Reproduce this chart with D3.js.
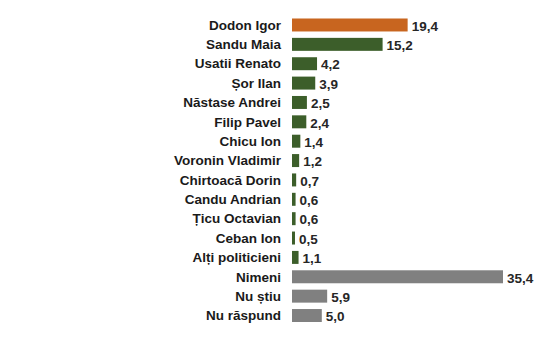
<!DOCTYPE html>
<html>
<head>
<meta charset="utf-8">
<script src="https://cdn.jsdelivr.net/npm/d3@7"></script>
<style>
  html, body { margin: 0; padding: 0; background: #ffffff; }
  svg { display: block; }
</style>
</head>
<body>
<script>
const categories = ["Dodon Igor", "Sandu Maia", "Usatii Renato", "Șor Ilan", "Năstase Andrei", "Filip Pavel", "Chicu Ion", "Voronin Vladimir", "Chirtoacă Dorin", "Candu Andrian", "Țicu Octavian", "Ceban Ion", "Alți politicieni", "Nimeni", "Nu știu", "Nu răspund"];
const values = [19.4, 15.2, 4.2, 3.9, 2.5, 2.4, 1.4, 1.2, 0.7, 0.6, 0.6, 0.5, 1.1, 35.4, 5.9, 5.0];
const groups = ["lead", "cand", "cand", "cand", "cand", "cand", "cand", "cand", "cand", "cand", "cand", "cand", "cand", "other", "other", "other"];

const W = 540, H = 340;
const colors = { lead: "#c8651f", cand: "#3c5e2a", other: "#808080" };

const svg = d3.select("body").append("svg").attr("width", W).attr("height", H);

const x = d3.scaleLinear().domain([0, 35.4]).range([292, 503]);
const y = d3.scaleBand().domain(categories).range([15.3, 325.2]).paddingInner(0.33).paddingOuter(0.165);

const rows = categories.map((c, i) => ({ c, v: values[i], g: groups[i] }));

svg.selectAll("rect.bar").data(rows).join("rect")
  .attr("class", "bar")
  .attr("x", x(0))
  .attr("y", d => y(d.c))
  .attr("width", d => x(d.v) - x(0))
  .attr("height", y.bandwidth())
  .attr("fill", d => colors[d.g]);

svg.selectAll("text.cat").data(rows).join("text")
  .attr("class", "cat")
  .attr("x", 281)
  .attr("y", d => y(d.c) + y.bandwidth() / 2)
  .attr("dy", "0.35em")
  .attr("text-anchor", "end")
  .attr("font-family", "Liberation Sans, Arial, sans-serif")
  .attr("font-weight", "bold")
  .attr("font-size", 13.5)
  .attr("fill", "#1a1a1a")
  .text(d => d.c);

const fmt = v => v.toFixed(1).replace(".", ",");
svg.selectAll("text.val").data(rows).join("text")
  .attr("class", "val")
  .attr("x", d => x(d.v) + 4)
  .attr("y", d => y(d.c) + y.bandwidth() / 2 + 1)
  .attr("dy", "0.35em")
  .attr("font-family", "Liberation Sans, Arial, sans-serif")
  .attr("font-weight", "bold")
  .attr("font-size", 13.5)
  .attr("fill", "#262626")
  .text(d => fmt(d.v));
</script>
</body>
</html>
